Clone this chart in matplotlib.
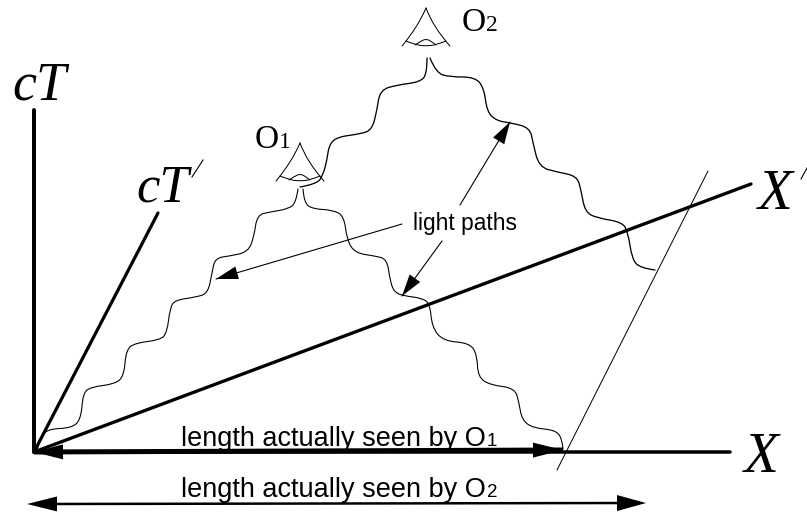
import matplotlib
matplotlib.use("Agg")
import matplotlib.pyplot as plt
from matplotlib.path import Path
from matplotlib.patches import PathPatch

W, H = 807, 516
PX = 0.72  # one pixel in points at dpi 100

# wavy light paths, waypoints (pixels)
o1_left = [(298, 189), (296, 203), (288, 209), (270, 212), (257, 215), (254, 237), (248, 252), (230, 256),
           (215, 258), (212, 273), (208, 293), (197, 297), (175, 300), (170, 308), (167, 333), (160, 340),
           (135, 343), (126, 350), (124, 376), (115, 384), (91, 387), (83, 393), (81, 419), (72, 428),
           (48, 429), (41, 437), (37, 450)]
o1_right = [(303, 189), (304, 203), (313, 209), (333, 210), (344, 216), (347, 240), (355, 253), (375, 256),
            (387, 259), (390, 280), (394, 292), (404, 296), (422, 298), (430, 304), (432, 327), (443, 341),
            (470, 343), (477, 355), (478, 377), (490, 385), (515, 388), (519, 403), (522, 420), (533, 428),
            (555, 430), (562, 438), (563, 449)]
o2_left = [(427, 58), (427, 74), (420, 82), (397, 85), (380, 90), (377, 110), (372, 130), (360, 134),
           (337, 137), (329, 145), (327, 160), (323, 175), (317, 184), (300, 187)]
o2_right = [(430, 58), (436, 73), (450, 77), (475, 77), (484, 88), (487, 112), (497, 121), (512, 123),
            (530, 128), (533, 143), (539, 167), (557, 172), (577, 176), (581, 190), (585, 212), (597, 218),
            (622, 222), (628, 232), (632, 259), (640, 268), (655, 270)]

# eye, relative to its apex
eye_left = [(0, 0), (-8, 19), (-24, 38)]
eye_right = [(0, 0), (7, 19), (24, 38)]
eye_lid = [(-20, 33), (-10, 37), (0, 38), (10, 37), (20, 33)]
eye_iris = [(-11, 37), (-5, 33), (0, 31), (5, 33), (10, 37)]
eye_apex = [(300, 143), (426, 8)]

origin = (34, 452)
ct_top = (34, 110)
ct2_top = (158, 213)
x2_end = (751, 184)
x_end = (730, 452)
thin_line = [(557, 470), (708, 171)]
len1 = [(34, 452), (563, 450)]
len2 = [(27, 504), (646, 503)]
pointers = [[(402, 224), (216, 279)], [(442, 241), (402, 296)], [(460, 205), (510, 122)]]


def smooth(ax, pts, lw):
    # waypoints used as quadratic control points, curve passes through the midpoints
    verts = [pts[0]]
    codes = [Path.MOVETO]
    for i in range(1, len(pts) - 1):
        if i < len(pts) - 2:
            end = ((pts[i][0] + pts[i + 1][0]) / 2, (pts[i][1] + pts[i + 1][1]) / 2)
        else:
            end = pts[-1]
        verts += [pts[i], end]
        codes += [Path.CURVE3, Path.CURVE3]
    ax.add_patch(PathPatch(Path(verts, codes), fill=False, ec="black", lw=lw * PX, capstyle="round"))


def head(ax, start, tip, length, width):
    dx = tip[0] - start[0]
    dy = tip[1] - start[1]
    d = (dx ** 2 + dy ** 2) ** 0.5
    ux, uy = dx / d, dy / d
    bx, by = tip[0] - ux * length, tip[1] - uy * length
    ax.fill([tip[0], bx - uy * width / 2, bx + uy * width / 2],
            [tip[1], by + ux * width / 2, by - ux * width / 2], color="black", lw=0, zorder=4)


def line(ax, a, b, lw, cap="round"):
    ax.plot([a[0], b[0]], [a[1], b[1]], color="black", lw=lw * PX, solid_capstyle=cap)


fig = plt.figure(figsize=(W / 100, H / 100), dpi=100)
ax = fig.add_axes([0, 0, 1, 1])
ax.set_xlim(0, W)
ax.set_ylim(H, 0)
ax.axis("off")

line(ax, origin, ct_top, 4)
line(ax, origin, ct2_top, 3.2)
line(ax, origin, x2_end, 3.3)
line(ax, origin, x_end, 3.5)
line(ax, thin_line[0], thin_line[1], 1.0)

for path in [o1_left, o1_right]:
    smooth(ax, path, 1.1)
for path in [o2_left, o2_right]:
    smooth(ax, path, 1.3)

for ex, ey in eye_apex:
    for part in [eye_left, eye_right, eye_lid, eye_iris]:
        smooth(ax, [(ex + p[0], ey + p[1]) for p in part], 1.0)

# length arrows
line(ax, len1[0], len1[1], 5, "butt")
head(ax, len1[1], len1[0], 29, 15)
head(ax, len1[0], len1[1], 30, 15)
line(ax, (len2[0][0] + 20, len2[0][1]), (len2[1][0] - 20, len2[1][1]), 2.5, "butt")
head(ax, len2[1], len2[0], 30, 15)
head(ax, len2[0], len2[1], 29, 16)

for a, b in pointers:
    line(ax, a, b, 1.1)
    head(ax, a, b, 22, 13)

serif = "Liberation Serif"
sans = "Liberation Sans"
ax.text(12, 100, "cT", family=serif, style="italic", fontsize=39, color="black")
ax.text(136, 202, "cT", family=serif, style="italic", fontsize=38, color="black")
ax.plot([192, 203], [177, 160], color="black", lw=0.8)
ax.text(758, 209, "X", family=serif, style="italic", fontsize=41, color="black")
ax.plot([801, 807], [179, 168], color="black", lw=0.8)
ax.text(744, 472, "X", family=serif, style="italic", fontsize=41, color="black")

ax.text(462, 31, "O", family=serif, fontsize=24, color="black")
ax.text(486, 31, "2", family=serif, fontsize=17, color="black")
ax.text(255, 148, "O", family=serif, fontsize=24, color="black")
ax.text(279, 148, "1", family=serif, fontsize=17, color="black")

ax.text(413, 230, "light paths", family=sans, fontsize=16.4, color="black")
ax.text(181, 446, "length actually seen by O", family=sans, fontsize=19.5, color="black")
ax.text(487, 446, "1", family=sans, fontsize=13.5, color="black")
ax.text(181, 497, "length actually seen by O", family=sans, fontsize=19.5, color="black")
ax.text(487, 497, "2", family=sans, fontsize=13.5, color="black")

fig.savefig("out.png", dpi=100)
